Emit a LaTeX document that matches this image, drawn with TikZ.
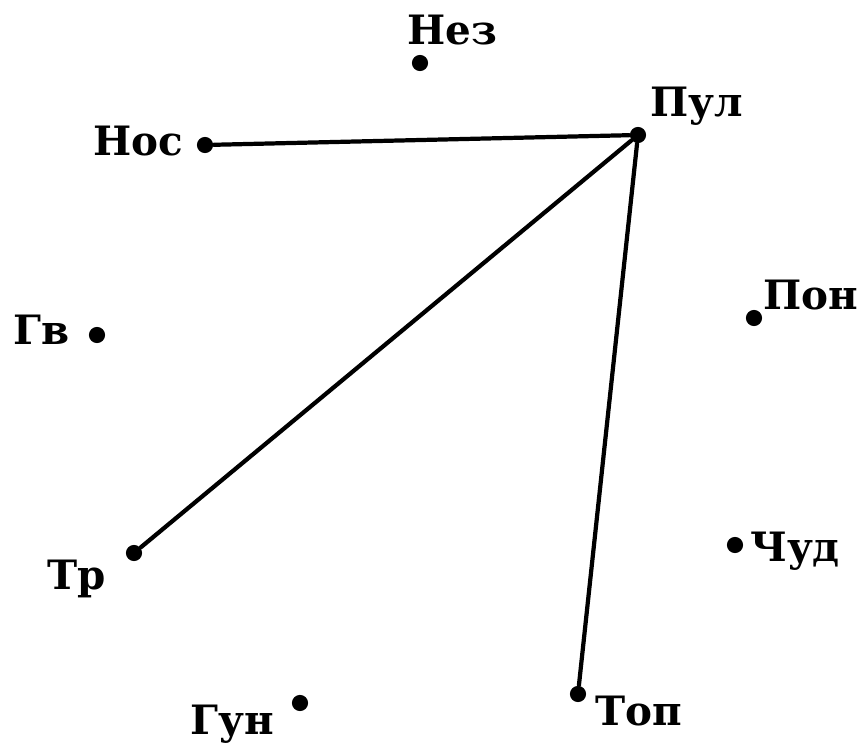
\documentclass[tikz,border=0pt]{standalone}
\usepackage{fontspec}
\setmainfont{DejaVu Serif}
\begin{document}
\begin{tikzpicture}[
    x=0.01cm, y=-0.01cm,
    line cap=round,
    line join=round,
    edge/.style={line width=1.2pt},
    pt/.style={circle,fill=black,inner sep=0pt,minimum size=4.6pt},
    lab/.style={anchor=base,inner sep=0pt,font=\bfseries\fontsize{11.5}{14}\selectfont}
]
\useasboundingbox (0,0) rectangle (859,749);

% -------------------------------------------------
% Вершины
% -------------------------------------------------
\node[pt] (nez) at (420,63)  {};
\node[pt] (pul) at (638,135) {};
\node[pt] (nos) at (205,145) {};
\node[pt] (gv)  at (97,335)  {};
\node[pt] (pon) at (754,318) {};
\node[pt] (tr)  at (134,553) {};
\node[pt] (chud) at (735,545) {};
\node[pt] (gun) at (300,703) {};
\node[pt] (top) at (578,694) {};

% -------------------------------------------------
% Подписи
% -------------------------------------------------
\node[lab] (nez-l) at (452,45)  {Нез};
\node[lab] (pul-l) at (697,117) {Пул};
\node[lab] (nos-l) at (138,156) {Нос};
\node[lab] (gv-l)  at (42,345)  {Гв};
\node[lab] (pon-l) at (811,310) {Пон};
\node[lab] (tr-l)  at (77,590)  {Тр};
\node[lab] (chud-l) at (795,562) {Чуд};
\node[lab] (gun-l) at (232,735) {Гун};
\node[lab] (top-l) at (639,726) {Топ};

% -------------------------------------------------
% Рёбра
% -------------------------------------------------
\draw[edge] (nos)--(pul);
\draw[edge] (pul)--(tr);
\draw[edge] (pul)--(top);

\end{tikzpicture}
\end{document}
